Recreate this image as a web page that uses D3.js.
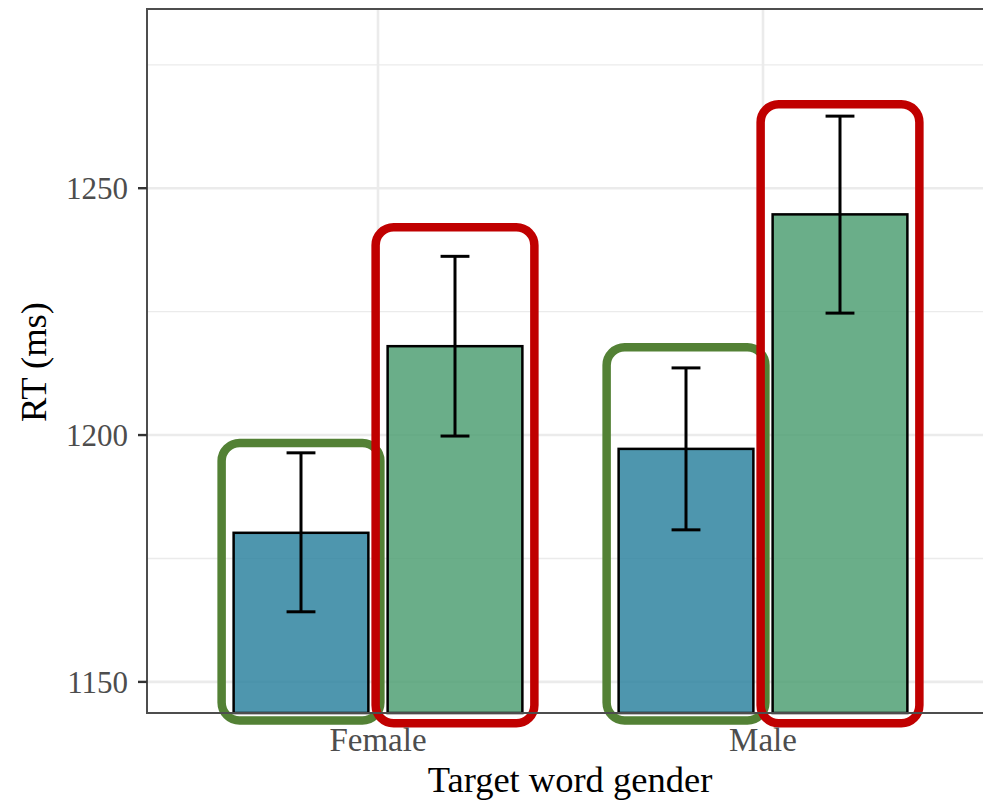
<!DOCTYPE html>
<html>
<head>
<meta charset="utf-8">
<script src="https://cdn.jsdelivr.net/npm/d3@7"></script>
<style>
  body { margin: 0; background: #fff; }
  text { font-family: "Liberation Serif", "Times New Roman", serif; }
</style>
</head>
<body>
<div id="chart"></div>
<script>
// data
var genders = ["Female", "Male"];
var conditions = ["a", "b"];
var meanRT = [[1180.2, 1218.0], [1197.2, 1244.7]];
var ciLow = [[1164.2, 1199.8], [1180.8, 1224.7]];
var ciHigh = [[1196.4, 1236.2], [1213.6, 1264.6]];
var yTicks = [1150, 1200, 1250];
var yMinor = [1175, 1225, 1275];
// annotation boxes (top / bottom edge in ms)
var boxTop = [[1198.4, 1242.1], [1217.8, 1267.0]];
var boxBottom = [1142.2, 1141.6];
var boxColors = ["#538135", "#c00000"];
var barColors = ["#2f84a0", "#50a074"];

var w = 983, h = 804;
var svg = d3.select("#chart").append("svg").attr("width", w).attr("height", h);

var pLeft = 147, pRight = 994, pTop = 9, pBottom = 713;

var x = d3.scaleLinear().domain([0.4, 2.6]).range([pLeft, pRight]);
var y = d3.scaleLinear().domain([1143.7, 1286.3]).range([pBottom, pTop]);

var dodge = 0.2, barW = 0.35, capW = 0.075;

// gridlines
var grid = svg.append("g");
grid.selectAll(".minor").data(yMinor).enter().append("line")
  .attr("x1", pLeft).attr("x2", pRight)
  .attr("y1", function(d) { return y(d); }).attr("y2", function(d) { return y(d); })
  .attr("stroke", "#ebebeb").attr("stroke-width", 1.3);
grid.selectAll(".major").data(yTicks).enter().append("line")
  .attr("x1", pLeft).attr("x2", pRight)
  .attr("y1", function(d) { return y(d); }).attr("y2", function(d) { return y(d); })
  .attr("stroke", "#ebebeb").attr("stroke-width", 2.6);
grid.selectAll(".vmajor").data(genders).enter().append("line")
  .attr("x1", function(d, i) { return x(i + 1); }).attr("x2", function(d, i) { return x(i + 1); })
  .attr("y1", pTop).attr("y2", pBottom)
  .attr("stroke", "#ebebeb").attr("stroke-width", 2.6);

// flatten
var bars = [];
genders.forEach(function(g, i) {
  conditions.forEach(function(c, j) {
    bars.push({ gi: i, ci: j, pos: i + 1 + (j === 0 ? -dodge : dodge),
      mean: meanRT[i][j], lo: ciLow[i][j], hi: ciHigh[i][j],
      boxTop: boxTop[i][j], boxBottom: boxBottom[j] });
  });
});

var plot = svg.append("g");
plot.selectAll("rect.bar").data(bars).enter().append("rect")
  .attr("class", "bar")
  .attr("x", function(d) { return x(d.pos - barW / 2); })
  .attr("width", function(d) { return x(d.pos + barW / 2) - x(d.pos - barW / 2); })
  .attr("y", function(d) { return y(d.mean); })
  .attr("height", function(d) { return pBottom - y(d.mean); })
  .attr("fill", function(d) { return barColors[d.ci]; })
  .attr("fill-opacity", 0.85)
  .attr("stroke", "#000").attr("stroke-width", 2.5);

// error bars
var eb = plot.selectAll("g.eb").data(bars).enter().append("g");
eb.append("line")
  .attr("x1", function(d) { return x(d.pos); }).attr("x2", function(d) { return x(d.pos); })
  .attr("y1", function(d) { return y(d.lo); }).attr("y2", function(d) { return y(d.hi); })
  .attr("stroke", "#000").attr("stroke-width", 3);
["lo", "hi"].forEach(function(k) {
  eb.append("line")
    .attr("x1", function(d) { return x(d.pos - capW / 2); })
    .attr("x2", function(d) { return x(d.pos + capW / 2); })
    .attr("y1", function(d) { return y(d[k]); }).attr("y2", function(d) { return y(d[k]); })
    .attr("stroke", "#000").attr("stroke-width", 3);
});

// panel border (right edge falls outside the window)
svg.append("path")
  .attr("d", "M" + pRight + "," + pTop + "H" + pLeft + "V" + pBottom + "H" + pRight)
  .attr("fill", "none").attr("stroke", "#4d4d4d").attr("stroke-width", 2);

// y axis
var yAxis = svg.append("g");
yAxis.selectAll("line").data(yTicks).enter().append("line")
  .attr("x1", pLeft - 9).attr("x2", pLeft)
  .attr("y1", function(d) { return y(d); }).attr("y2", function(d) { return y(d); })
  .attr("stroke", "#333").attr("stroke-width", 2.4);
yAxis.selectAll("text").data(yTicks).enter().append("text")
  .attr("x", pLeft - 19).attr("y", function(d) { return y(d); })
  .attr("dy", "0.35em").attr("text-anchor", "end")
  .attr("fill", "#4d4d4d").attr("font-size", 31)
  .text(function(d) { return d; });

// x axis labels
svg.selectAll("text.xlab").data(genders).enter().append("text")
  .attr("class", "xlab")
  .attr("x", function(d, i) { return x(i + 1); }).attr("y", 751)
  .attr("text-anchor", "middle").attr("fill", "#4d4d4d").attr("font-size", 33)
  .text(function(d) { return d; });

svg.append("text").attr("x", 570).attr("y", 792)
  .attr("text-anchor", "middle").attr("fill", "#000").attr("font-size", 36.5)
  .text("Target word gender");
svg.append("text")
  .attr("transform", "translate(46,362) rotate(-90)")
  .attr("text-anchor", "middle").attr("fill", "#000").attr("font-size", 36.5)
  .text("RT (ms)");

// annotation boxes
plot.selectAll("rect.box").data(bars).enter().append("rect")
  .attr("class", "box")
  .attr("x", function(d) { return x(d.pos - barW / 2) - 12; })
  .attr("width", function(d) { return x(d.pos + barW / 2) - x(d.pos - barW / 2) + 24; })
  .attr("y", function(d) { return y(d.boxTop); })
  .attr("height", function(d) { return y(d.boxBottom) - y(d.boxTop); })
  .attr("rx", 18).attr("ry", 18)
  .attr("fill", "none")
  .attr("stroke", function(d) { return boxColors[d.ci]; })
  .attr("stroke-width", 8.5);
</script>
</body>
</html>
